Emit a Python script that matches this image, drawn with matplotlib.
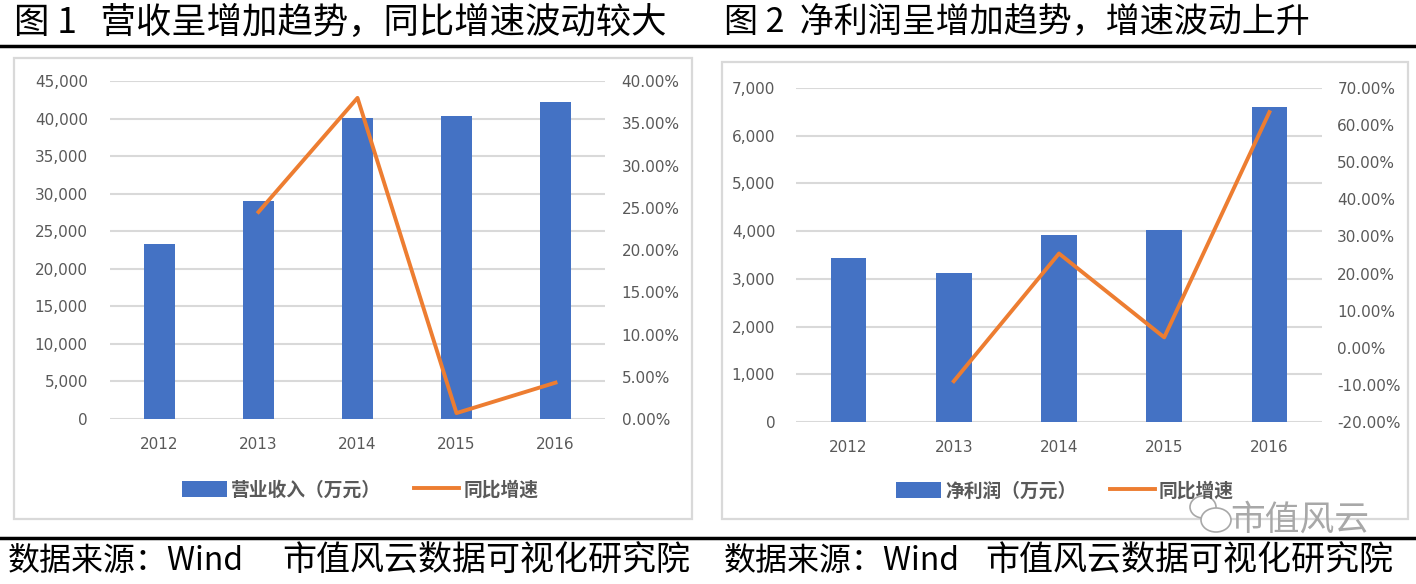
import matplotlib
matplotlib.use("Agg")
import matplotlib.pyplot as plt
from matplotlib.patches import Rectangle, Ellipse
from matplotlib.ticker import FuncFormatter

years = ["2012", "2013", "2014", "2015", "2016"]

revenue = [23300, 29000, 40100, 40400, 42200]
revenue_growth = [None, 24.5, 38.0, 0.7, 4.3]

profit = [3430, 3120, 3920, 4020, 6600]
profit_growth = [None, -9.0, 25.4, 2.8, 63.5]

titles = ["图 1   营收呈增加趋势，同比增速波动较大", "图 2  净利润呈增加趋势，增速波动上升"]
bar_labels = ["营业收入（万元）", "净利润（万元）"]
line_label = "同比增速"
source_a = "数据来源：Wind"
source_b = "市值风云数据可视化研究院"

BLUE = "#4472C4"
ORANGE = "#ED7D31"
GRID = "#D9D9D9"
TICK = "#595959"

W, H = 1416, 584
fig = plt.figure(figsize=(W / 100, H / 100), dpi=100)
fig.patch.set_facecolor("white")

cjk = ["Noto Sans CJK SC", "DejaVu Sans"]
num_font = ["DejaVu Sans"]


def box(x0, y0, x1, y1):
    # pixel box (top-left origin) -> figure fraction rect
    return [x0 / W, 1 - y1 / H, (x1 - x0) / W, (y1 - y0) / H]


def draw_chart(ax_rect, frame, bars, growth, left_max, left_step, right_min, right_max,
               right_step, bar_width, bar_label, legend_xy, lpad, rpad):
    fx0, fy0, fx1, fy1 = frame
    fig.patches.append(Rectangle((fx0 / W, 1 - fy1 / H), (fx1 - fx0) / W, (fy1 - fy0) / H,
                                 transform=fig.transFigure, fill=False,
                                 edgecolor=GRID, lw=1.6))
    ax = fig.add_axes(box(*ax_rect))
    x = list(range(len(years)))
    b = ax.bar(x, bars, width=bar_width, color=BLUE, zorder=3, label=bar_label)
    ax.set_xlim(-0.5, len(years) - 0.5)
    ax.set_ylim(0, left_max)
    ax.set_yticks(range(0, left_max + 1, left_step))
    ax.yaxis.set_major_formatter(FuncFormatter(lambda v, p: f"{int(v):,}"))
    ax.grid(axis="y", color=GRID, lw=1.5, zorder=0)
    ax.set_axisbelow(True)
    for s in ax.spines.values():
        s.set_visible(False)
    ax.tick_params(length=0, colors=TICK, labelsize=11)
    ax.set_xticks(x)
    ax.set_xticklabels(years, fontfamily=num_font)
    ax.tick_params(axis="x", pad=13)
    ax.tick_params(axis="y", pad=lpad)

    ax2 = ax.twinx()
    gx = [i for i, g in zip(x, growth) if g is not None]
    gy = [g for g in growth if g is not None]
    ln, = ax2.plot(gx, gy, color=ORANGE, lw=2.8, zorder=4, label=line_label)
    ax2.set_ylim(right_min, right_max)
    ax2.set_yticks([right_min + i * right_step for i in
                    range(int(round((right_max - right_min) / right_step)) + 1)])
    ax2.yaxis.set_major_formatter(FuncFormatter(lambda v, p: f"{v:.2f}%"))
    for s in ax2.spines.values():
        s.set_visible(False)
    ax2.tick_params(length=0, colors=TICK, labelsize=11, pad=rpad)

    fig.legend([b, ln], [bar_label, line_label], loc="center",
               bbox_to_anchor=(legend_xy[0] / W, 1 - legend_xy[1] / H),
               ncol=2, frameon=False, handlelength=2.4, handleheight=0.9,
               columnspacing=1.8, handletextpad=0.2,
               prop={"family": cjk, "size": 13.5, "weight": "bold"},
               labelcolor=TICK)


draw_chart((110, 81, 605, 419), (14, 58, 692, 519), revenue, revenue_growth,
           45000, 5000, 0, 40, 5, 0.32, bar_labels[0], (360, 490), 16, 12)
draw_chart((796, 88, 1322, 422), (722, 62, 1408, 519), profit, profit_growth,
           7000, 1000, -20, 70, 10, 0.34, bar_labels[1], (1065, 491), 15, 11)

# headers and footers
fig.text(14 / W, 1 - 23 / H, titles[0], fontfamily=cjk, fontsize=25.5, va="center", ha="left")
fig.text(724 / W, 1 - 23 / H, titles[1], fontfamily=cjk, fontsize=24.5, va="center", ha="left")
fig.add_artist(plt.Line2D([0, 1], [1 - 46 / H, 1 - 46 / H], color="black", lw=2.5,
                          transform=fig.transFigure))
fig.add_artist(plt.Line2D([0, 1], [1 - 538 / H, 1 - 538 / H], color="black", lw=2.5,
                          transform=fig.transFigure))
for sx_a, sx_b in [(8, 282), (724, 985)]:
    fig.text(sx_a / W, 1 - 561 / H, source_a, fontfamily=cjk, fontsize=23,
             va="center", ha="left")
    fig.text(sx_b / W, 1 - 561 / H, source_b, fontfamily=cjk, fontsize=24.5,
             va="center", ha="left")

# watermark
fig.text(1300 / W, 1 - 520 / H, "市值风云", fontfamily=cjk, fontsize=25, color="#A8A8A8",
         fontweight="light", va="center", ha="center")
for cx, cy, ew, eh in [(1203, 507, 26, 22), (1216, 520, 30, 24)]:
    fig.patches.append(Ellipse((cx / W, 1 - cy / H), ew / W, eh / H,
                               transform=fig.transFigure, fill=True, facecolor="white",
                               edgecolor="#A8A8A8", lw=1.2))

fig.savefig("out.png", dpi=100)
